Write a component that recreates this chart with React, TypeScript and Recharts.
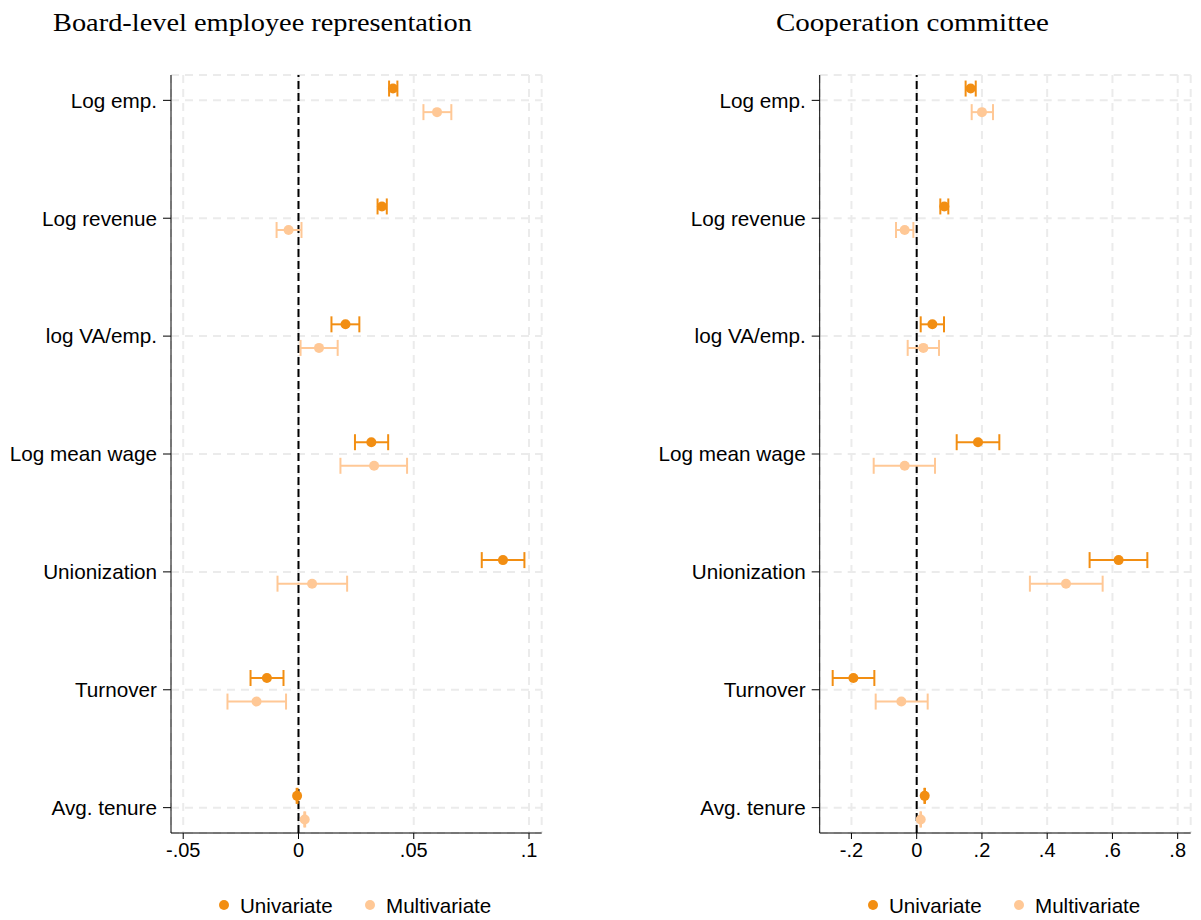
import React from 'react';
import { ScatterChart, Scatter, XAxis, YAxis, CartesianGrid, ReferenceLine, ErrorBar } from 'recharts';

const categories = ['Log emp.', 'Log revenue', 'log VA/emp.', 'Log mean wage', 'Unionization', 'Turnover', 'Avg. tenure'];

const boardUni = [0.0410, 0.0362, 0.0204, 0.0316, 0.0887, -0.0137, -0.0006];
const boardUniLo = [0.0393, 0.0343, 0.0143, 0.0245, 0.0795, -0.0208, -0.0008];
const boardUniHi = [0.0429, 0.0383, 0.0264, 0.0389, 0.0980, -0.0065, -0.0004];
const boardMulti = [0.0601, -0.0043, 0.0089, 0.0328, 0.0059, -0.0182, 0.0027];
const boardMultiLo = [0.0542, -0.0095, 0.0009, 0.0182, -0.0091, -0.0308, 0.0025];
const boardMultiHi = [0.0663, 0.0013, 0.0170, 0.0471, 0.0211, -0.0054, 0.0029];

const coopUni = [0.1655, 0.0847, 0.0480, 0.1879, 0.619, -0.1941, 0.0245];
const coopUniLo = [0.150, 0.0724, 0.0123, 0.1226, 0.530, -0.2575, 0.0235];
const coopUniHi = [0.181, 0.0969, 0.0837, 0.2533, 0.707, -0.1298, 0.0255];
const coopMulti = [0.200, -0.0368, 0.0204, -0.0368, 0.4577, -0.047, 0.0123];
const coopMultiLo = [0.1686, -0.0634, -0.0276, -0.1318, 0.347, -0.1257, 0.0113];
const coopMultiHi = [0.2339, -0.0102, 0.0684, 0.0562, 0.570, 0.0337, 0.0133];

const boardTicks = [-0.05, 0, 0.05, 0.1];
const coopTicks = [-0.2, 0, 0.2, 0.4, 0.6, 0.8];
const catTicks = [1, 2, 3, 4, 5, 6, 7];

const UNI = '#F28E12';
const MULTI = '#FFC896';
const FONT = '"Liberation Sans", Arial, sans-serif';

const build = (est: number[], lo: number[], hi: number[], off: number) =>
  est.map((v, i) => ({ x: v, y: categories.length - i + off, err: [v - lo[i], hi[i] - v] }));

const fmtX = (v: number) => (v === 0 ? '0' : String(v).replace('0.', '.'));
const fmtY = (v: number) => categories[categories.length - v] ?? '';

const dot = (color: string) => (p: any) => <circle cx={p.cx} cy={p.cy} r={5} fill={color} />;

type PanelProps = {
  uni: any[];
  multi: any[];
  domain: [number, number];
  ticks: number[];
  width: number;
  yAxisWidth: number;
  right: number;
};

const Panel = ({ uni, multi, domain, ticks, width, yAxisWidth, right }: PanelProps) => (
  <ScatterChart width={width} height={920} margin={{ top: 75, right, bottom: 57, left: 0 }}>
    <CartesianGrid stroke="#ebebeb" strokeWidth={2} strokeDasharray="8 6" />
    <XAxis
      type="number"
      dataKey="x"
      domain={domain}
      ticks={ticks}
      allowDataOverflow
      tickFormatter={fmtX}
      stroke="#000"
      tickSize={6}
      tickMargin={4}
      height={30}
      tick={{ fill: '#000', fontSize: 20, fontFamily: FONT }}
    />
    <YAxis
      type="number"
      dataKey="y"
      domain={[0.785, 7.215]}
      ticks={catTicks}
      allowDataOverflow
      tickFormatter={fmtY}
      width={yAxisWidth}
      stroke="#000"
      tickSize={8}
      tickMargin={6}
      interval={0}
      tick={{ fill: '#000', fontSize: 20.7, fontFamily: FONT }}
    />
    <ReferenceLine x={0} stroke="#000" strokeWidth={2} strokeDasharray="8 4" />
    <Scatter data={multi} fill={MULTI} shape={dot(MULTI)} isAnimationActive={false}>
      <ErrorBar dataKey="err" direction="x" width={8} stroke={MULTI} strokeWidth={2} />
    </Scatter>
    <Scatter data={uni} fill={UNI} shape={dot(UNI)} isAnimationActive={false}>
      <ErrorBar dataKey="err" direction="x" width={8} stroke={UNI} strokeWidth={2} />
    </Scatter>
  </ScatterChart>
);

const Legend2 = ({ cx }: { cx: number }) => (
  <g fontFamily={FONT} fontSize={20.6} fill="#000">
    <circle cx={cx - 132} cy={905} r={5} fill={UNI} />
    <text x={cx - 116} y={913}>Univariate</text>
    <circle cx={cx + 14} cy={905} r={5} fill={MULTI} />
    <text x={cx + 30} y={913}>Multivariate</text>
  </g>
);

export default function App() {
  const bu = build(boardUni, boardUniLo, boardUniHi, 0.1);
  const bm = build(boardMulti, boardMultiLo, boardMultiHi, -0.1);
  const cu = build(coopUni, coopUniLo, coopUniHi, 0.1);
  const cm = build(coopMulti, coopMultiLo, coopMultiHi, -0.1);
  return (
    <div style={{ position: 'absolute', left: 0, top: 0, width: 1201, height: 920, background: '#fff' }}>
      <div style={{ position: 'absolute', left: 0, top: 0 }}>
        <Panel uni={bu} multi={bm} domain={[-0.0553, 0.1055]} ticks={boardTicks} width={600} yAxisWidth={171} right={58.3} />
      </div>
      <div style={{ position: 'absolute', left: 600, top: 0 }}>
        <Panel uni={cu} multi={cm} domain={[-0.2973, 0.8399]} ticks={coopTicks} width={601} yAxisWidth={219.7} right={10.3} />
      </div>
      <svg width={1201} height={920} style={{ position: 'absolute', left: 0, top: 0, pointerEvents: 'none' }}>
        <text x={53} y={31} fontFamily='"Liberation Serif", "Times New Roman", serif' fontSize={25} fill="#000" textLength={419} lengthAdjust="spacingAndGlyphs">
          Board-level employee representation
        </text>
        <text x={776} y={31} fontFamily='"Liberation Serif", "Times New Roman", serif' fontSize={25} fill="#000" textLength={273} lengthAdjust="spacingAndGlyphs">
          Cooperation committee
        </text>
        <Legend2 cx={356} />
        <Legend2 cx={1005} />
      </svg>
    </div>
  );
}
